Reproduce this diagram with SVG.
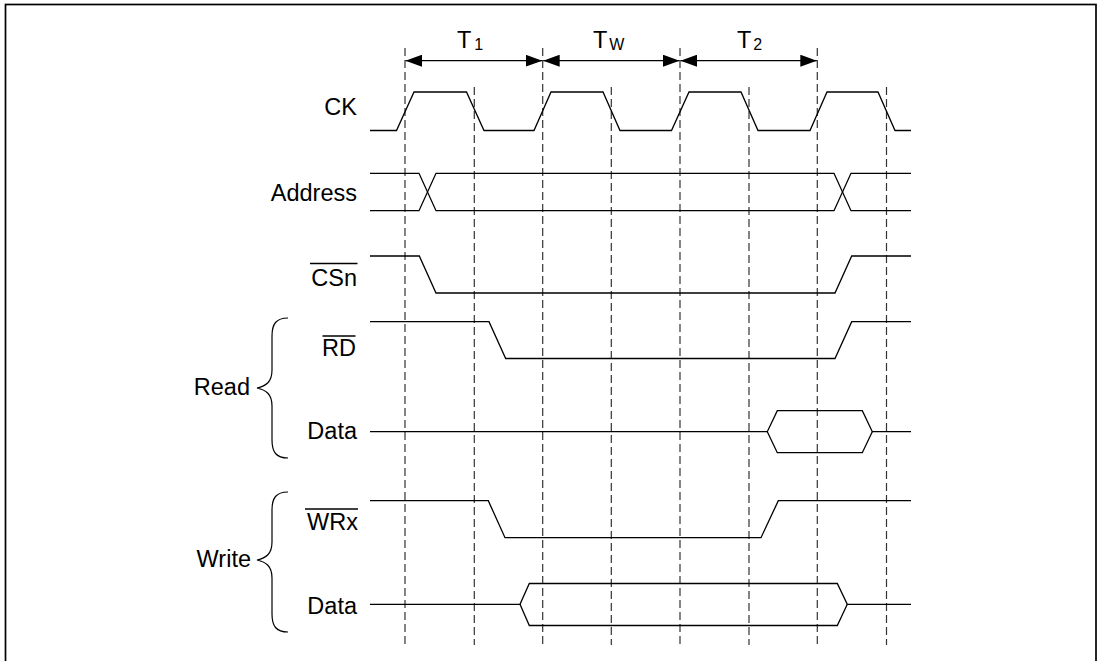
<svg xmlns="http://www.w3.org/2000/svg" width="1102" height="661" viewBox="0 0 1102 661">
<style>
  text { font-family: "Liberation Sans", Arial, sans-serif; font-size: 23.5px; fill: #000; }
  .lbl { text-anchor: end; }
  .sub { font-size: 16px; }
  .wave { fill: none; stroke: #000; stroke-width: 1.3; stroke-linejoin: miter; }
  .bar { stroke: #000; stroke-width: 1.3; }
  .grid { stroke: #333; stroke-width: 1.2; stroke-dasharray: 8 4; }
  .brace { fill: none; stroke: #000; stroke-width: 1.2; }
  .dim { stroke: #000; stroke-width: 1.3; marker-start: url(#ah); marker-end: url(#ah); }
</style>
<defs>
  <marker id="ah" markerUnits="userSpaceOnUse" markerWidth="17" markerHeight="12" refX="16.5" refY="6" orient="auto-start-reverse">
    <path d="M0,0 L16.5,6 L0,12 Z" fill="#000"/>
  </marker>
</defs>
<rect width="1102" height="661" fill="#fff"/>
<g id="frame">
  <rect x="5.5" y="4.5" width="1090.5" height="700" fill="none" stroke="#000" stroke-width="1.7"/>
</g>
<g id="grid">
  <line class="grid" x1="405" y1="48" x2="405" y2="645"/>
  <line class="grid" x1="474.3" y1="87" x2="474.3" y2="645"/>
  <line class="grid" x1="542.7" y1="48" x2="542.7" y2="645"/>
  <line class="grid" x1="611.3" y1="87" x2="611.3" y2="645"/>
  <line class="grid" x1="680" y1="48" x2="680" y2="645"/>
  <line class="grid" x1="749" y1="87" x2="749" y2="645"/>
  <line class="grid" x1="817.3" y1="48" x2="817.3" y2="645"/>
  <line class="grid" x1="886.5" y1="87" x2="886.5" y2="645"/>
</g>
<g id="connectors">
  <line class="dim" x1="405.5" y1="60.7" x2="542.2" y2="60.7"/>
  <line class="dim" x1="543.2" y1="60.7" x2="679.5" y2="60.7"/>
  <line class="dim" x1="680.5" y1="60.7" x2="816.8" y2="60.7"/>
</g>
<g id="interval-labels">
  <text x="457" y="48">T<tspan class="sub" dx="3" dy="1.5">1</tspan></text>
  <text x="593" y="48">T<tspan class="sub" dx="2" dy="1.5">W</tspan></text>
  <text x="737" y="48">T<tspan class="sub" dx="2" dy="1.5">2</tspan></text>
</g>
<g id="sig-ck">
  <text class="lbl" x="357" y="115">CK</text>
  <path class="wave" d="M370,130.5 H396.5 L414,92 H466.5 L484,130.5 H534 L551,92 H603 L620,130.5 H671.5 L689,92 H741 L758,130.5 H810 L827,92 H878 L895,130.5 H911"/>
</g>
<g id="sig-address">
  <text class="lbl" x="357" y="201">Address</text>
  <path class="wave" d="M370,173.3 H419 L436,210.7 H834 L851,173.3 H911"/>
  <path class="wave" d="M370,210.7 H419 L436,173.3 H834 L851,210.7 H911"/>
</g>
<g id="sig-csn">
  <text class="lbl" x="357" y="286">CSn</text>
  <line class="bar" x1="310" y1="263.5" x2="357.5" y2="263.5"/>
  <path class="wave" d="M370,256 H419.3 L436,293 H835 L851.7,256 H911"/>
</g>
<g id="group-read">
  <path class="brace" d="M288,318 C276,318 272,324 272,336 V370 C272,382 266,386 257,388 C266,390 272,394 272,406 V440 C272,452 276,458 288,458"/>
  <text class="lbl" x="250" y="395">Read</text>
</g>
<g id="sig-rd">
  <text class="lbl" x="356" y="356">RD</text>
  <line class="bar" x1="322.5" y1="336" x2="355.5" y2="336"/>
  <path class="wave" d="M370,321.7 H489 L505.7,358.5 H835 L851.7,321.7 H911"/>
</g>
<g id="sig-read-data">
  <text class="lbl" x="357" y="438.5">Data</text>
  <path class="wave" d="M370,431.7 H767.3 L777.3,410.7 H862.3 L872.3,431.7 H911"/>
  <path class="wave" d="M767.3,431.7 L777.3,452.7 H862.3 L872.3,431.7"/>
</g>
<g id="group-write">
  <path class="brace" d="M288,492 C276,492 272,498 272,510 V542 C272,554 266,558 257,560 C266,562 272,566 272,578 V614 C272,626 276,632 288,632"/>
  <text class="lbl" x="251" y="567">Write</text>
</g>
<g id="sig-wrx">
  <text class="lbl" x="358" y="529.5">WRx</text>
  <line class="bar" x1="305" y1="509" x2="358" y2="509"/>
  <path class="wave" d="M370,500.7 H488.3 L505,537.7 H761 L778.3,500.7 H911"/>
</g>
<g id="sig-write-data">
  <text class="lbl" x="357" y="613.5">Data</text>
  <path class="wave" d="M370,604.3 H520 L529.3,583.5 H837.3 L847.3,604.3 H911"/>
  <path class="wave" d="M520,604.3 L529.3,625.5 H837.3 L847.3,604.3"/>
</g>
</svg>
